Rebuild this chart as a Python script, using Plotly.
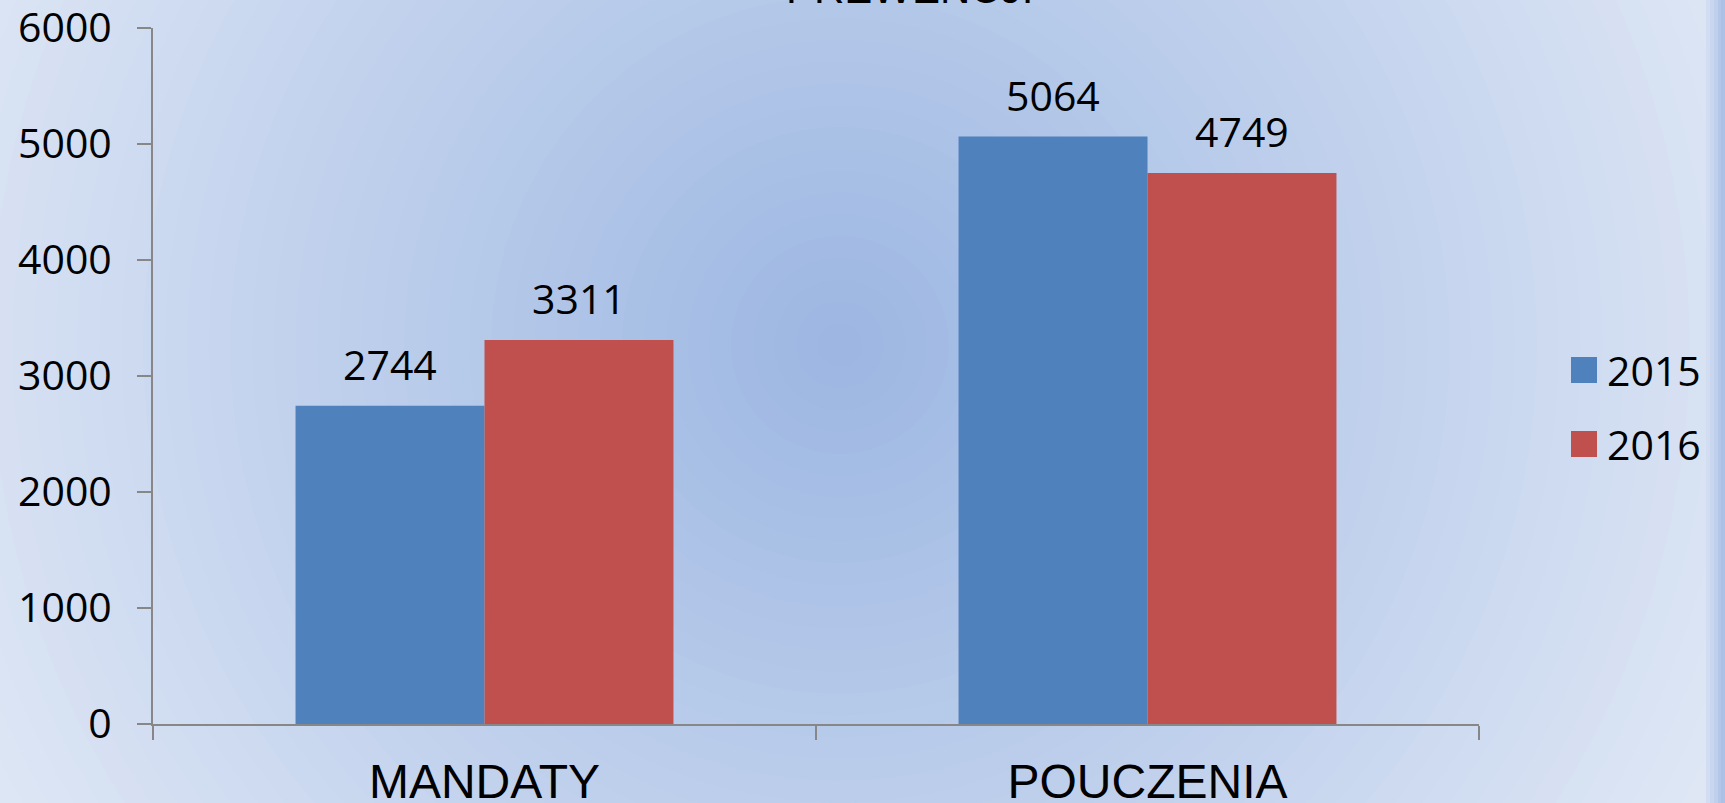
import plotly.graph_objects as go

categories = ["MANDATY", "POUCZENIA"]
series_names = ["2015", "2016"]
values_2015 = [2744, 5064]
values_2016 = [3311, 4749]
series_colors = ["#4f81bd", "#c0504d"]
title_text = "PREWENCJI"
y_ticks = [0, 1000, 2000, 3000, 4000, 5000, 6000]

W, H = 1725, 803
ML, MR, MT, MB = 153, 246, 28, 79
PW, PH = W - ML - MR, H - MT - MB

label_font = dict(family="Open Sans, Lato, sans-serif", size=41, color="#000000")
cat_font = dict(family="Liberation Sans, Arial, sans-serif", size=48, color="#000000")

fig = go.Figure()
for name, vals, col in zip(series_names, [values_2015, values_2016], series_colors):
    fig.add_trace(go.Bar(x=categories, y=vals, name=name, marker=dict(color=col, line=dict(width=0)),
                         showlegend=False, hoverinfo="skip"))

# data labels via annotations
bar_w = PW / len(categories) * (1 - 0.43) / 2
for i, vals in enumerate([values_2015, values_2016]):
    shift = (i - 0.5) * bar_w
    for c, v in zip(categories, vals):
        fig.add_annotation(x=c, y=v, xref="x", yref="y", text=str(v), showarrow=False,
                           xshift=shift, yshift=12, yanchor="bottom", font=label_font)

# background radial gradient (style only)
def px2paper(x, y):
    return (x - ML) / PW, (H - MB - y) / PH

cx, cy = 840, 345
R = 980
c0 = (155, 182, 226)
c1 = (223, 231, 245)
shapes = []
N = 45
for k in range(N, 0, -1):
    r = R * k / N
    t = k / N
    col = tuple(int(round(c0[j] + (c1[j] - c0[j]) * t)) for j in range(3))
    x0, y0 = px2paper(cx - r, cy + r)
    x1, y1 = px2paper(cx + r, cy - r)
    shapes.append(dict(type="circle", xref="paper", yref="paper", x0=x0, y0=y0, x1=x1, y1=y1,
                       fillcolor="rgb(%d,%d,%d)" % col, line=dict(width=0), layer="below"))
# right edge darker strip
strip = [(1706, "#d3ddf1"), (1710, "#c9d6ef"), (1714, "#bfcfec"), (1718, "#b5c7e9"), (1721, "#adc1e7")]
for xs, col in strip:
    x0, y0 = px2paper(xs, H)
    x1, y1 = px2paper(W, 0)
    shapes.append(dict(type="rect", xref="paper", yref="paper", x0=x0, y0=y0, x1=x1, y1=y1,
                       fillcolor=col, line=dict(width=0), layer="below"))

# manual legend
leg_y = [370, 444]
for name, col, ly in zip(series_names, series_colors, leg_y):
    x0, y0 = px2paper(1571, ly + 13)
    x1, y1 = px2paper(1597, ly - 13)
    shapes.append(dict(type="rect", xref="paper", yref="paper", x0=x0, y0=y0, x1=x1, y1=y1,
                       fillcolor=col, line=dict(width=0), layer="above"))
    ax, ay = px2paper(1605, ly)
    fig.add_annotation(x=ax, y=ay, xref="paper", yref="paper", text=name, showarrow=False,
                       xanchor="left", yanchor="middle", font=label_font)

# title, cut off at top
fig.add_annotation(x=0.5, y=1, xref="paper", yref="paper", text=title_text, showarrow=False,
                   xanchor="center", yanchor="bottom", yshift=14, xshift=(909 - (ML + PW / 2)),
                   font=dict(family="Liberation Sans, Arial, sans-serif", size=42, color="#000000"))

fig.update_layout(
    width=W, height=H,
    margin=dict(l=ML, r=MR, t=MT, b=MB, pad=0, autoexpand=False),
    paper_bgcolor="#dfe7f5", plot_bgcolor="rgba(0,0,0,0)",
    barmode="group", bargap=0.43, bargroupgap=0,
    shapes=shapes,
    showlegend=False,
)
fig.update_xaxes(showgrid=False, showline=True, linecolor="#878787", linewidth=2,
                 ticks="outside", ticklen=14, tickcolor="#878787", tickwidth=1.5,
                 tickson="boundaries", tickfont=cat_font, ticklabelstandoff=14, zeroline=False,
                 automargin=False, fixedrange=True, ticklabeloverflow="allow")
fig.update_yaxes(range=[0, 6000], tickvals=y_ticks, showgrid=False, showline=True,
                 linecolor="#878787", linewidth=2, ticks="outside", ticklen=14,
                 tickcolor="#878787", tickwidth=1.5, tickfont=label_font, ticklabelstandoff=17,
                 zeroline=False, automargin=False, fixedrange=True, ticklabeloverflow="allow")

fig.write_html("out.html", config={"displayModeBar": False, "staticPlot": True},
               post_script="document.body.style.margin='0';document.body.style.overflow='hidden';")
